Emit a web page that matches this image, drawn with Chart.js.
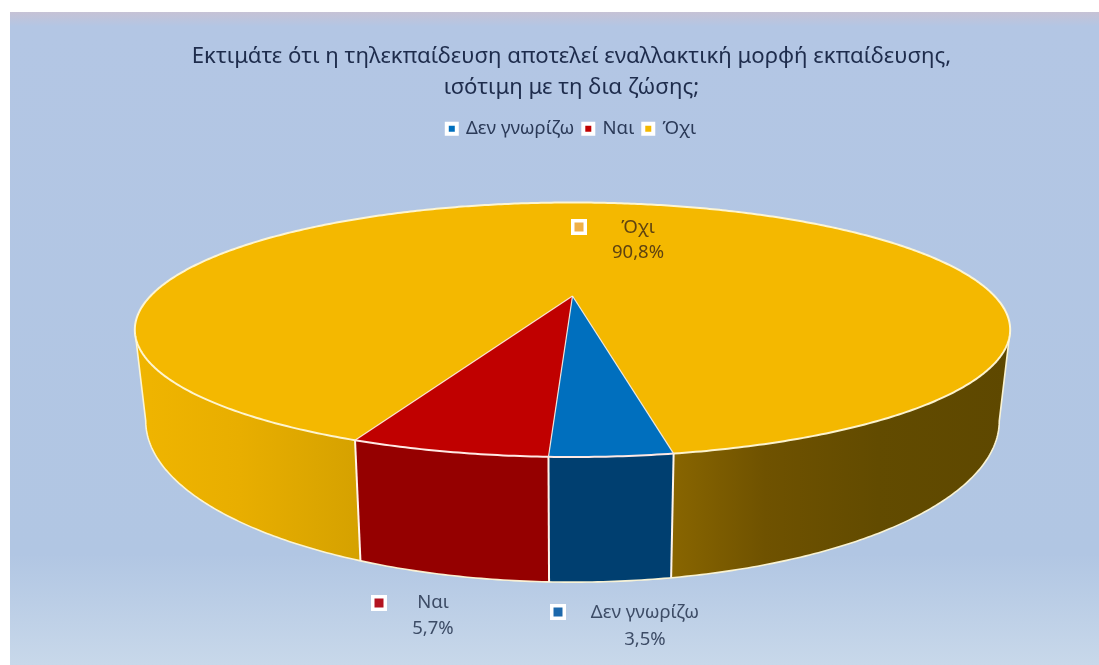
<!DOCTYPE html>
<html lang="el"><head><meta charset="utf-8">
<style>html,body{margin:0;padding:0;background:#fff}canvas{display:block;filter:blur(.5px)}</style>
<script src="https://cdn.jsdelivr.net/npm/chart.js@4"></script></head>
<body><canvas id="c" width="1099" height="665"></canvas>
<script>
const titleLines = ["Εκτιμάτε ότι η τηλεκπαίδευση αποτελεί εναλλακτική μορφή εκπαίδευσης,", "ισότιμη με τη δια ζώσης;"];
const categories = ["Δεν γνωρίζω", "Ναι", "Όχι"];
const values = [3.5, 5.7, 90.8];
const topColors = ["#006fbe", "#c00000", "#f4b800"];
const FONT = "'Noto Sans'";
// perspective projection of the pie disc
const upper = {cx:572.5, y0:296, a:118.3, A:422};
const lower = {cx:572.5, y0:378, a:150, A:411.5};
const B = 0.2652;
const SIL = Math.atan2(Math.sqrt(1-B*B),-B);
function proj(p, t){const u=Math.sin(t), v=Math.cos(t), w=1+B*v; return [p.cx+p.A*u/w, p.y0-p.a*v/w];}
function arcPts(p, s, e){const n=Math.max(4,Math.ceil((e-s)/0.01)), r=[]; for(let i=0;i<=n;i++) r.push(proj(p,s+(e-s)*i/n)); return r;}
function wallFill(ctx, i){
  if(i===0) return "#003f70"; if(i===1) return "#950000";
  const g=ctx.createLinearGradient(135,0,1010,0);
  [[0,"#f0b500"],[.12,"#e8ae00"],[.25,"#d6a200"],[.6,"#8c6800"],[.72,"#6f5200"],[.85,"#624b00"],[1,"#5e4800"]].forEach(c=>g.addColorStop(c[0],c[1]));
  return g;
}
function wall(ctx, s, e, fill){
  const T=arcPts(upper,s,e), L=arcPts(lower,s,e).reverse();
  ctx.beginPath();
  T.concat(L).forEach((q,k)=>k?ctx.lineTo(q[0],q[1]):ctx.moveTo(q[0],q[1]));
  ctx.closePath(); ctx.fillStyle=fill; ctx.fill();
}
const pie3d = {
  id:"pie3d",
  beforeDraw(chart){
    const {ctx,width,height}=chart;
    ctx.save(); ctx.fillStyle="#fff"; ctx.fillRect(0,0,width,height);
    const g=ctx.createLinearGradient(0,12,0,665);
    g.addColorStop(0,"#c6c2d5"); g.addColorStop(.022,"#b3c6e4"); g.addColorStop(.83,"#b1c6e3"); g.addColorStop(1,"#c8d8ea");
    ctx.fillStyle=g; ctx.fillRect(10,12,width-10,height-12); ctx.restore();
  },
  beforeDatasetDraw(chart){
    const ctx=chart.ctx, arcs=chart.getDatasetMeta(0).data;
    const ang=arcs.map(a=>[a.startAngle+Math.PI/2, a.endAngle+Math.PI/2]);
    ctx.save(); ctx.lineJoin="round";
    const rim="rgba(255,248,215,.95)";
    // side walls: only the visible front parts; the yellow slice wraps behind the disc
    const y=wallFill(ctx,2);
    wall(ctx,ang[2][0],2*Math.PI-SIL,y);
    wall(ctx,2*Math.PI+SIL,ang[2][1],y);
    wall(ctx,ang[1][0],ang[1][1],wallFill(ctx,1));
    wall(ctx,ang[0][0],ang[0][1],wallFill(ctx,0));
    // bottom rim and silhouette lines
    const lo=arcPts(lower,SIL,2*Math.PI-SIL);
    ctx.beginPath(); const tr=proj(upper,SIL), tl=proj(upper,2*Math.PI-SIL);
    ctx.moveTo(tr[0],tr[1]); lo.forEach(q=>ctx.lineTo(q[0],q[1])); ctx.lineTo(tl[0],tl[1]);
    ctx.strokeStyle=rim; ctx.lineWidth=1.6; ctx.stroke();
    // vertical seams
    [0,1,2].forEach(i=>{const a=proj(upper,ang[i][0]), b=proj(lower,ang[i][0]);
      ctx.beginPath(); ctx.moveTo(a[0],a[1]); ctx.lineTo(b[0],b[1]); ctx.strokeStyle="#fff4ea"; ctx.lineWidth=2; ctx.stroke();});
    // top face wedges
    const apex=[upper.cx,upper.y0];
    [2,1,0].forEach(i=>{
      const P=arcPts(upper,ang[i][0],ang[i][1]);
      ctx.beginPath(); ctx.moveTo(apex[0],apex[1]); P.forEach(q=>ctx.lineTo(q[0],q[1])); ctx.closePath();
      ctx.fillStyle=topColors[i]; ctx.fill();
    });
    // wedge and rim strokes
    [2,1,0].forEach(i=>{
      const P=arcPts(upper,ang[i][0],ang[i][1]);
      ctx.beginPath(); P.forEach((q,k)=>k?ctx.lineTo(q[0],q[1]):ctx.moveTo(q[0],q[1]));
      ctx.strokeStyle=i===2?rim:"#ffe9e4"; ctx.lineWidth=2; ctx.stroke();
    });
    [0,1,2].forEach(i=>{const a=proj(upper,ang[i][0]);
      ctx.beginPath(); ctx.moveTo(apex[0],apex[1]); ctx.lineTo(a[0],a[1]); ctx.strokeStyle="rgba(255,240,225,.9)"; ctx.lineWidth=1.2; ctx.stroke();});
    ctx.restore();
    return false;
  },
  afterDatasetsDraw(chart){
    const ctx=chart.ctx;
    const place=[{mx:558,my:612,tx:645,ty:613,dy:27,col:"#3d4c66"},{mx:379,my:603,tx:433,ty:603,dy:26,col:"#3d4c66"},{mx:579,my:227,tx:638,ty:228,dy:25,col:"#5f4310"}];
    const mark=["#1d68ab","#b31320","#f0b048"];
    ctx.save(); ctx.textAlign="center"; ctx.textBaseline="middle"; ctx.font="18.5px "+FONT;
    categories.forEach((c,i)=>{
      const p=place[i];
      ctx.fillStyle="#fff"; ctx.fillRect(p.mx-8,p.my-8,16,16);
      ctx.fillStyle=mark[i]; ctx.fillRect(p.mx-4.5,p.my-4.5,9,9);
      ctx.fillStyle=p.col; ctx.fillText(c,p.tx,p.ty);
      ctx.fillText(values[i].toFixed(1).replace(".",",")+"%",p.tx,p.ty+p.dy);
    });
    ctx.restore();
  }
};
new Chart(document.getElementById("c"),{
  type:"pie",
  data:{labels:categories,datasets:[{data:values,backgroundColor:topColors,borderWidth:0}]},
  plugins:[pie3d],
  options:{
    responsive:false,animation:false,rotation:169.8,
    layout:{padding:{left:44,top:42}},
    plugins:{
      tooltip:{enabled:false},
      title:{display:true,text:titleLines,color:"#1e2c4c",font:{family:FONT,size:22.2,weight:"normal",lineHeight:1.36},padding:{top:0,bottom:8}},
      legend:{display:true,position:"top",labels:{color:"#2b3a58",font:{family:FONT,size:18.5},boxWidth:10,boxHeight:10,padding:9,
        generateLabels(chart){return categories.map((c,i)=>({text:c,fillStyle:topColors[i],strokeStyle:"#fff",lineWidth:4,fontColor:"#2b3a58",index:i}));}}}
    }
  }
});
</script></body></html>
